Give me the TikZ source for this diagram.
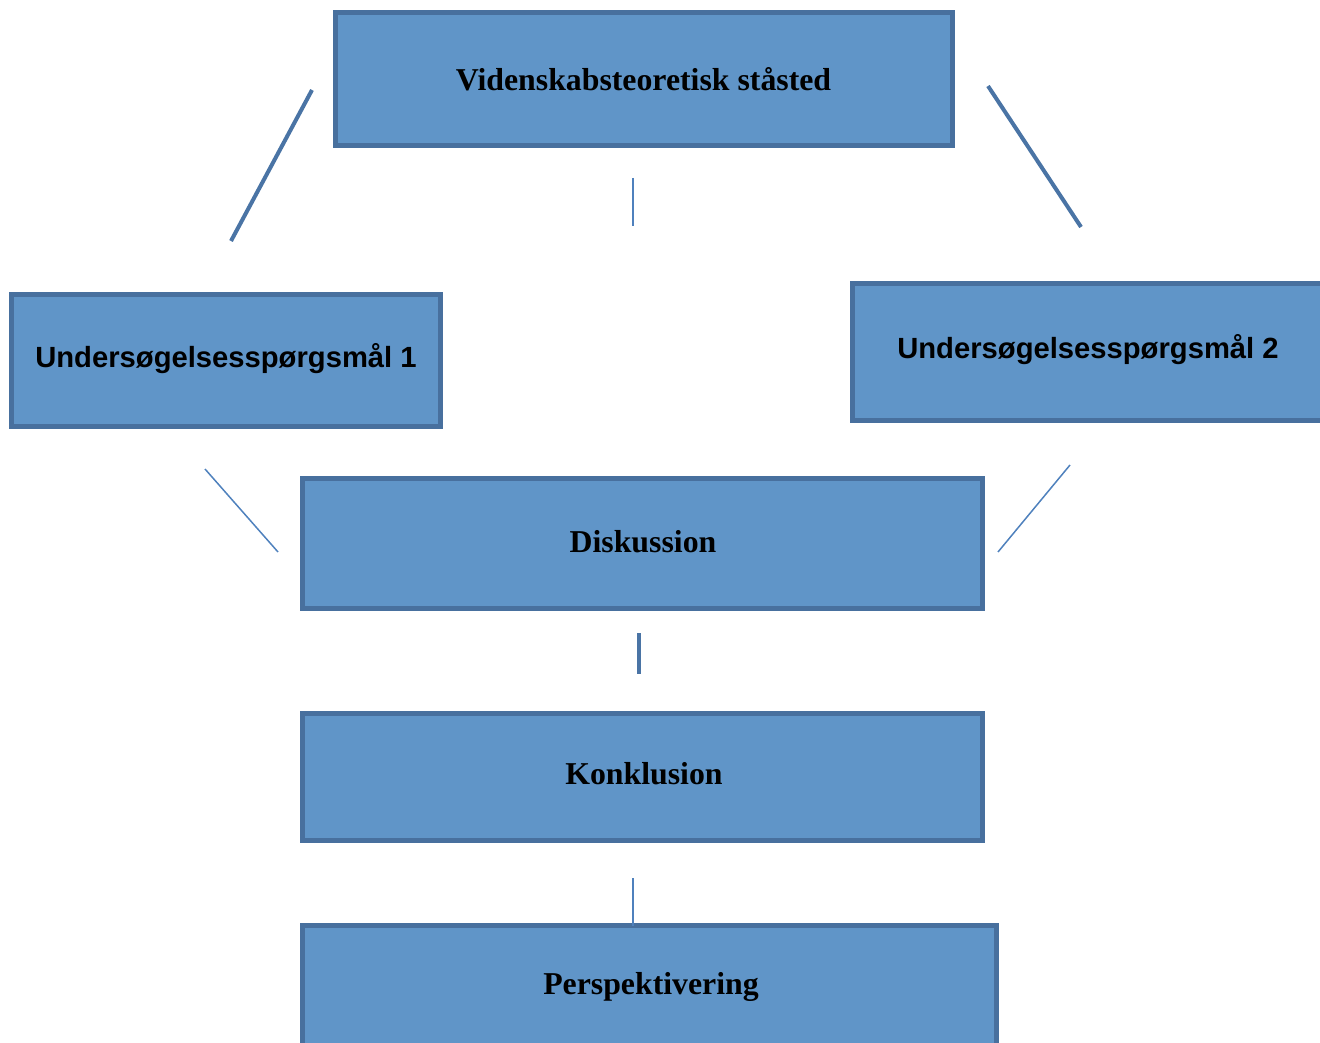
\documentclass[tikz,border=0pt]{standalone}
\usepackage{fontspec}
\setmainfont{Liberation Serif}
\newfontfamily\arialfont{Liberation Sans}
\definecolor{boxfill}{RGB}{96,149,200}
\definecolor{boxline}{RGB}{72,112,158}
\definecolor{thinline}{RGB}{79,129,189}
\definecolor{thickline}{RGB}{74,116,165}
\tikzset{
  box/.style={draw=boxline, fill=boxfill, line width=5pt, rectangle, inner sep=0pt, outer sep=0pt, anchor=north west},
  seriftxt/.style={font=\fontsize{31.8}{35}\selectfont\bfseries, text=black, inner sep=0pt},
  sanstxt/.style={font=\arialfont\fontsize{29.2}{32}\selectfont\bfseries, text=black, inner sep=0pt},
  thickcon/.style={draw=thickline, line width=4pt},
  thincon/.style={draw=thinline, line width=1.5pt},
}
\begin{document}
\begin{tikzpicture}[x=1pt, y=-1pt]
\useasboundingbox (0,0) rectangle (1320,1043);
\clip (0,0) rectangle (1320,1043);
% boxes (border centre lines)
\node[box, minimum width=617pt, minimum height=133pt] (top) at (335.5,12.5) {};
\node[box, minimum width=429pt, minimum height=132pt] (u1) at (11.5,294.5) {};
\node[box, minimum width=480pt, minimum height=137pt] (u2) at (852.5,283.5) {};
\node[box, minimum width=680pt, minimum height=130pt] (disk) at (302.5,478.5) {};
\node[box, minimum width=680pt, minimum height=127pt] (konk) at (302.5,713.5) {};
\node[box, minimum width=694pt, minimum height=160pt] (persp) at (302.5,925.5) {};
% texts
\node[seriftxt] (toptxt) at (643.5,79) {Videnskabsteoretisk ståsted};
\node[sanstxt] (u1txt) at (226,359) {Undersøgelsesspørgsmål 1};
\node[sanstxt] (u2txt) at (1088,350) {Undersøgelsesspørgsmål 2};
\node[seriftxt] (disktxt) at (643,542) {Diskussion};
\node[seriftxt] (konktxt) at (644,774) {Konklusion};
\node[seriftxt] (persptxt) at (651,987) {Perspektivering};
% connector end points
\coordinate (l1a) at (312,90);   \coordinate (l1b) at (231,241);
\coordinate (r1a) at (988,86);   \coordinate (r1b) at (1081,227);
\coordinate (c1a) at (633,178);  \coordinate (c1b) at (633,226);
\coordinate (l2a) at (205,469);  \coordinate (l2b) at (278,552);
\coordinate (r2a) at (1070,465); \coordinate (r2b) at (998,552);
\coordinate (c2a) at (639,633);  \coordinate (c2b) at (639,674);
\coordinate (c3a) at (633,878);
% connectors
\draw[thickcon] (l1a) -- (l1b);
\draw[thickcon] (r1a) -- (r1b);
\draw[thincon] (c1a) -- (c1b);
\draw[thincon] (l2a) -- (l2b);
\draw[thincon] (r2a) -- (r2b);
\draw[thickcon] (c2a) -- (c2b);
\draw[thincon] (c3a) -- (c3a |- persp.north);
\end{tikzpicture}
\end{document}
